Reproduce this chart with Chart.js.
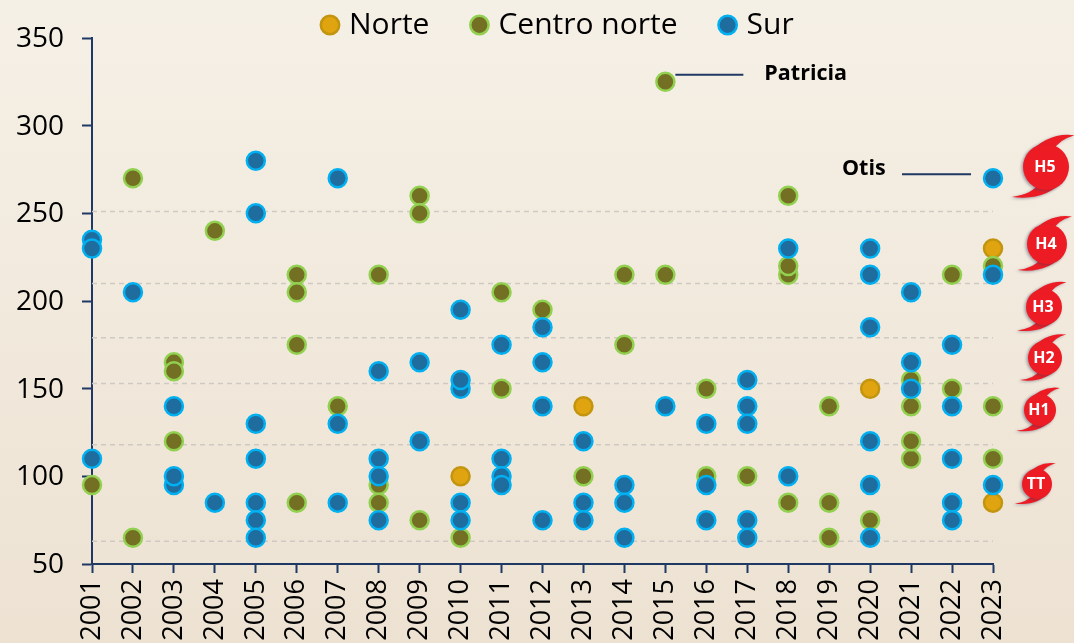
<!DOCTYPE html>
<html><head><meta charset="utf-8">
<style>html,body{margin:0;padding:0;background:linear-gradient(#f5f0e6,#ede2d2);width:1074px;height:643px;overflow:hidden}canvas{display:block}</style>
<script src="https://cdn.jsdelivr.net/npm/chart.js@4"></script>
</head><body><canvas id="c" width="1074" height="643"></canvas>
<script>
const norteYears  = [2010,2013,2020,2023,2023];
const norteValues = [100,140,150,230,85];
const centroYears  = [2001,2002,2002,2003,2003,2003,2004,2006,2006,2006,2006,2007,2008,2008,2008,2009,2009,2009,2010,2011,2011,2012,2013,2014,2014,2015,2015,2016,2016,2017,2018,2018,2018,2018,2019,2019,2019,2020,2021,2021,2021,2021,2022,2022,2023,2023,2023];
const centroValues = [95,270,65,165,160,120,240,215,205,175,85,140,215,95,85,260,250,75,65,205,150,195,100,215,175,325,215,150,100,100,260,215,220,85,140,85,65,75,155,140,110,120,215,150,220,140,110];
const surYears  = [2001,2001,2001,2002,2003,2003,2003,2004,2005,2005,2005,2005,2005,2005,2005,2007,2007,2007,2008,2008,2008,2008,2009,2009,2010,2010,2010,2010,2010,2011,2011,2011,2011,2012,2012,2012,2012,2013,2013,2013,2014,2014,2014,2015,2016,2016,2016,2017,2017,2017,2017,2017,2018,2018,2020,2020,2020,2020,2020,2020,2021,2021,2021,2022,2022,2022,2022,2022,2023,2023,2023];
const surValues = [235,230,110,205,140,95,100,85,280,250,130,110,85,75,65,270,130,85,160,110,100,75,165,120,195,150,155,85,75,175,110,100,95,185,165,140,75,120,85,75,95,85,65,140,130,95,75,155,140,130,75,65,230,100,230,215,185,120,95,65,205,165,150,175,140,110,85,75,270,215,95];
const firstYear = 2001, lastYear = 2023;
const yTicks = [50,100,150,200,250,300,350];
const thresholds = [251,210,179,153,118,63];
const namedStorms = ["Patricia","Otis"];
const namedYears = [2015,2023];
const namedValues = [325,270];
const categoryLabels = ["H5","H4","H3","H2","H1","TT"];

const pts = (xs,ys)=>xs.map((x,i)=>({x,y:ys[i]}));
const F = '"Open Sans"';
const series = (label,xs,ys,bg,bd,order)=>({label,data:pts(xs,ys),backgroundColor:bg,borderColor:bd,borderWidth:2.5,pointRadius:9,pointHoverRadius:9,pointBorderWidth:2.5,showLine:false,clip:false,order,pointStyle:'circle'});
const datasets = [
  series('Norte',norteYears,norteValues,'#dfa40f','#c3950f',3),
  series('Centro norte',centroYears,centroValues,'#736f23','#92d050',2),
  series('Sur',surYears,surValues,'#1f6c9f','#00b0f0',1),
  ...thresholds.map(t=>({label:'',data:[{x:firstYear,y:t},{x:lastYear,y:t}],showLine:true,pointRadius:0,borderColor:'#cfc9c4',borderWidth:1.5,borderDash:[5,4],clip:false,order:10}))
];

const iconSpots = [[1046,167,23],[1047,244,20],[1044,307,18],[1045,358,17],[1040,410,16],[1037,484,15]];
function drawIcon(ctx,cx,cy,r,label){
  ctx.save();
  ctx.translate(cx,cy);ctx.scale(r,r);
  ctx.shadowColor='rgba(60,60,90,.45)';ctx.shadowBlur=3;ctx.shadowOffsetX=-1.5;ctx.shadowOffsetY=1;
  ctx.fillStyle='#ed1c24';
  ctx.beginPath();
  ctx.moveTo(1.25,-1.38);
  ctx.quadraticCurveTo(0.1,-1.55,-0.85,-0.5);
  ctx.lineTo(0.3,-0.7);
  ctx.quadraticCurveTo(0.55,-1.2,1.25,-1.38);
  ctx.closePath();
  ctx.fill();
  ctx.beginPath();
  ctx.moveTo(-1.48,1.3);
  ctx.quadraticCurveTo(0,1.5,0.85,0.5);
  ctx.lineTo(-0.3,0.7);
  ctx.quadraticCurveTo(-0.6,1.2,-1.48,1.3);
  ctx.closePath();
  ctx.fill();
  ctx.beginPath();
  ctx.arc(0,0,1,0,Math.PI*2);
  ctx.fill();
  ctx.restore();
  ctx.save();
  ctx.fillStyle='#fff';ctx.font='bold 16px '+F;ctx.textAlign='center';ctx.textBaseline='middle';
  ctx.fillText(label,cx-1,cy);
  ctx.restore();
}
const overlay = {
  id:'overlay',
  beforeLayout(chart){
    const l=chart.legend;
    if(!l._wrapped){const f=l.fit;l.fit=function(){f.call(this);this.height=38;};l._wrapped=true;}
  },
  afterLayout(chart){
    const l=chart.legend; const w=l.right-l.left;
    l.left=280; l.right=280+w; l.top=-36; l.bottom=100;
  },
  afterDraw(chart){
    const {ctx,scales:{x,y}}=chart;
    ctx.save();
    ctx.font='bold 21.5px '+F;ctx.fillStyle='#000';ctx.textBaseline='middle';
    ctx.strokeStyle='#1f3864';ctx.lineWidth=2;
    const px0=x.getPixelForValue(namedYears[0]),py0=y.getPixelForValue(namedValues[0]);
    ctx.beginPath();ctx.moveTo(px0+10,py0-7);ctx.lineTo(px0+78,py0-7);ctx.stroke();
    ctx.textAlign='left';ctx.fillText(namedStorms[0],px0+99,py0-8);
    const px1=x.getPixelForValue(namedYears[1]),py1=y.getPixelForValue(namedValues[1]);
    ctx.beginPath();ctx.moveTo(px1-91,py1-4);ctx.lineTo(px1-22,py1-4);ctx.stroke();
    ctx.fillText(namedStorms[1],px1-151,py1-9);
    ctx.restore();
    categoryLabels.forEach((t,i)=>{const s=iconSpots[i];drawIcon(ctx,s[0],s[1],s[2],t);});
  }
};
new Chart(document.getElementById('c'),{
  type:'scatter',
  data:{datasets},
  plugins:[overlay],
  options:{
    responsive:false,animation:false,devicePixelRatio:1,
    layout:{padding:{top:0,right:81,left:0,bottom:0}},
    plugins:{
      tooltip:{enabled:false},
      legend:{
        position:'top',align:'start',
        labels:{usePointStyle:true,boxHeight:13,boxWidth:8,padding:46,color:'#000',font:{family:F,size:30},filter:i=>i.text!=='',sort:(a,b)=>a.datasetIndex-b.datasetIndex}
      }
    },
    scales:{
      x:{type:'linear',min:firstYear,max:lastYear,
        afterFit(s){s.height=79;},
        afterBuildTicks(s){const t=[];for(let v=firstYear;v<=lastYear;v++)t.push({value:v});s.ticks=t;},
        grid:{drawOnChartArea:false,drawTicks:true,tickLength:9,tickColor:'#1f3864',tickWidth:2},
        border:{color:'#1f3864',width:2},
        ticks:{autoSkip:false,maxRotation:90,minRotation:90,color:'#000',font:{family:F,size:27},padding:6,callback:v=>String(v)}
      },
      y:{min:50,max:350,
        afterFit(s){s.width=92;},
        afterBuildTicks(s){s.ticks=yTicks.map(v=>({value:v}));},
        grid:{drawOnChartArea:false,drawTicks:true,tickLength:10,tickColor:'#1f3864',tickWidth:2},
        border:{color:'#1f3864',width:2},
        ticks:{color:'#000',font:{family:F,size:28},padding:18,labelOffset:1,callback:v=>String(v)}
      }
    }
  }
});
</script></body></html>
